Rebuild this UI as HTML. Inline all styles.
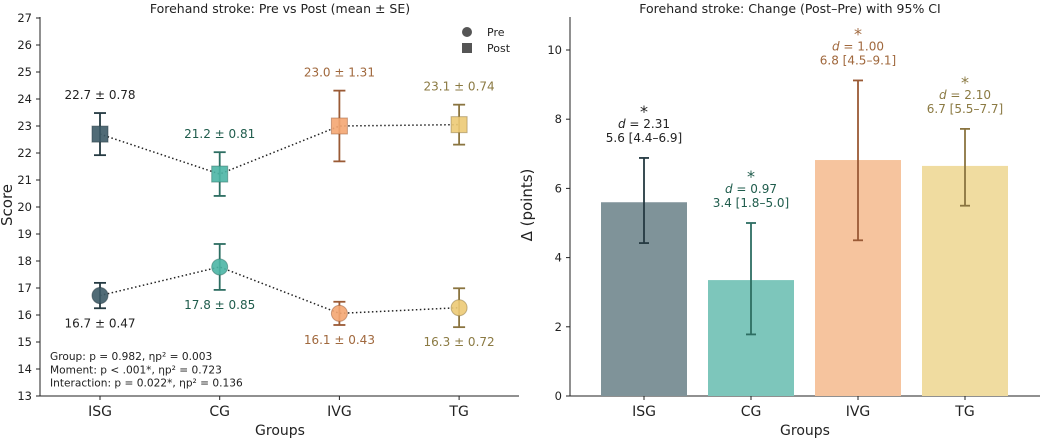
<!DOCTYPE html>
<html><head><meta charset="utf-8"><style>
body{margin:0;background:#fff;}
svg{display:block;font-family:"DejaVu Sans","Liberation Sans",sans-serif;}
</style></head><body>
<svg id="c" width="1052" height="440" viewBox="0 0 1052 440"></svg>
<script>
const groups=["ISG","CG","IVG","TG"];
const preMean=[16.72,17.78,16.06,16.27];
const preSE=[0.47,0.85,0.43,0.72];
const postMean=[22.7,21.22,23.0,23.05];
const postSE=[0.78,0.81,1.31,0.74];
const preLabels=["16.7 ± 0.47","17.8 ± 0.85","16.1 ± 0.43","16.3 ± 0.72"];
const postLabels=["22.7 ± 0.78","21.2 ± 0.81","23.0 ± 1.31","23.1 ± 0.74"];
const leftTicks=[13,14,15,16,17,18,19,20,21,22,23,24,25,26,27];
const deltaMean=[5.6,3.35,6.82,6.65];
const ciLow=[4.42,1.78,4.5,5.5];
const ciHigh=[6.88,5.0,9.12,7.72];
const dVals=["2.31","0.97","1.00","2.10"];
const ciLabels=["5.6 [4.4–6.9]","3.4 [1.8–5.0]","6.8 [4.5–9.1]","6.7 [5.5–7.7]"];
const rightTicks=[0,2,4,6,8,10];

const fill=["#3d5b67","#4bb5a5","#f4a672","#ecca76"];
const bar=["#7f9399","#7dc6bb","#f6c49e","#f0dca0"];
const ebar=["#253a42","#2d6e62","#9a5a35","#8a7440"];
const txt=["#222222","#1f5c4c","#a0683d","#8b7a43"];

const svg=document.getElementById('c');
const NS="http://www.w3.org/2000/svg";
function mk(tag,attrs,parent,text){const e=document.createElementNS(NS,tag);for(const k in attrs)e.setAttribute(k,attrs[k]);if(text!==undefined)e.textContent=text;(parent||svg).appendChild(e);return e;}

const lx=i=>100+119.7*i;
const ly=v=>396-(v-13)*27.0;
const rx=i=>644+107*i;
const ry=v=>396-v*34.6;

let t=mk('text',{x:280,y:13,'text-anchor':'middle','font-size':12.5,fill:'#222'},svg,"Forehand stroke: Pre vs Post (mean ± SE)");

t=mk('text',{x:790,y:13,'text-anchor':'middle','font-size':12.5,fill:'#222'},svg,"Forehand stroke: Change (Post–Pre) with 95% CI");


let g=mk('g',{});
mk('line',{x1:40,y1:17,x2:40,y2:396,stroke:'#222','stroke-width':1},g);
leftTicks.forEach(v=>{mk('line',{x1:36,y1:ly(v),x2:40,y2:ly(v),stroke:'#222'},g);mk('text',{x:32,y:ly(v)+4,'text-anchor':'end','font-size':11.5,fill:'#222'},g,v);});
g=mk('g',{});
mk('line',{x1:40,y1:396,x2:519,y2:396,stroke:'#222'},g);
groups.forEach((n,i)=>{mk('line',{x1:lx(i),y1:396,x2:lx(i),y2:400,stroke:'#222'},g);mk('text',{x:lx(i),y:416,'text-anchor':'middle','font-size':14,fill:'#222'},g,n);});
t=mk('text',{x:280,y:435,'text-anchor':'middle','font-size':14,fill:'#222'},svg,"Groups");
t=mk('text',{x:12,y:205,'text-anchor':'middle','font-size':15,fill:'#222',transform:'rotate(-90 12 205)'},svg,"Score");

let d=preMean.map((v,i)=>(i?'L':'M')+lx(i)+','+ly(v)).join(' ');
let p=mk('path',{d:d,fill:'none',stroke:'#222','stroke-width':1.5,'stroke-dasharray':'1.5,2.5'});
d=postMean.map((v,i)=>(i?'L':'M')+lx(i)+','+ly(v)).join(' ');
p=mk('path',{d:d,fill:'none',stroke:'#222','stroke-width':1.5,'stroke-dasharray':'1.5,2.5'});

groups.forEach((n,i)=>{
  const x=lx(i);
  let gg=mk('g',{});
  const a=ly(preMean[i]-preSE[i]),b=ly(preMean[i]+preSE[i]);
  mk('line',{x1:x,y1:a,x2:x,y2:b,stroke:ebar[i],'stroke-width':1.8},gg);
  mk('line',{x1:x-6,y1:a,x2:x+6,y2:a,stroke:ebar[i],'stroke-width':1.8},gg);
  mk('line',{x1:x-6,y1:b,x2:x+6,y2:b,stroke:ebar[i],'stroke-width':1.8},gg);
  mk('circle',{cx:x,cy:ly(preMean[i]),r:8,fill:fill[i],'fill-opacity':0.9,stroke:ebar[i],'stroke-opacity':0.5},gg);
  let tt=mk('text',{x:x,y:a+19,'text-anchor':'middle','font-size':12,fill:txt[i]},svg,preLabels[i]);
  
  gg=mk('g',{});
  const c=ly(postMean[i]-postSE[i]),e=ly(postMean[i]+postSE[i]);
  mk('line',{x1:x,y1:c,x2:x,y2:e,stroke:ebar[i],'stroke-width':1.8},gg);
  mk('line',{x1:x-6,y1:c,x2:x+6,y2:c,stroke:ebar[i],'stroke-width':1.8},gg);
  mk('line',{x1:x-6,y1:e,x2:x+6,y2:e,stroke:ebar[i],'stroke-width':1.8},gg);
  const yy=ly(postMean[i]);
  mk('rect',{x:x-8,y:yy-8,width:16,height:16,fill:fill[i],'fill-opacity':0.9,stroke:ebar[i],'stroke-opacity':0.5},gg);
  tt=mk('text',{x:x,y:e-14,'text-anchor':'middle','font-size':12,fill:txt[i]},svg,postLabels[i]);
  
});

g=mk('g',{});
mk('circle',{cx:467,cy:32,r:5,fill:'#555'},g);
mk('text',{x:487,y:36,'font-size':11,fill:'#222'},g,"Pre");
mk('rect',{x:462,y:43,width:10,height:10,fill:'#555'},g);
mk('text',{x:487,y:52,'font-size':11,fill:'#222'},g,"Post");

g=mk('g',{});
["Group: p = 0.982, ηp² = 0.003","Moment: p < .001*, ηp² = 0.723","Interaction: p = 0.022*, ηp² = 0.136"].forEach((s,k)=>mk('text',{x:50,y:360+k*13.3,'font-size':10.6,fill:'#222'},g,s));

g=mk('g',{});
mk('line',{x1:570,y1:17,x2:570,y2:396,stroke:'#222'},g);
rightTicks.forEach(v=>{mk('line',{x1:566,y1:ry(v),x2:570,y2:ry(v),stroke:'#222'},g);mk('text',{x:562,y:ry(v)+4,'text-anchor':'end','font-size':11.5,fill:'#222'},g,v);});
g=mk('g',{});
mk('line',{x1:570,y1:396,x2:1040,y2:396,stroke:'#222'},g);
groups.forEach((n,i)=>{mk('line',{x1:rx(i),y1:396,x2:rx(i),y2:400,stroke:'#222'},g);mk('text',{x:rx(i),y:416,'text-anchor':'middle','font-size':14,fill:'#222'},g,n);});
t=mk('text',{x:805,y:435,'text-anchor':'middle','font-size':14,fill:'#222'},svg,"Groups");
t=mk('text',{x:532,y:205,'text-anchor':'middle','font-size':15,fill:'#222',transform:'rotate(-90 532 205)'},svg,"Δ (points)");

groups.forEach((n,i)=>{
  const x=rx(i);
  let r=mk('rect',{x:x-43,y:ry(deltaMean[i]),width:86,height:ry(0)-ry(deltaMean[i]),fill:bar[i]});
  
  let gg=mk('g',{});
  const a=ry(ciLow[i]),b=ry(ciHigh[i]);
  mk('line',{x1:x,y1:a,x2:x,y2:b,stroke:ebar[i],'stroke-width':1.8},gg);
  mk('line',{x1:x-5,y1:a,x2:x+5,y2:a,stroke:ebar[i],'stroke-width':1.8},gg);
  mk('line',{x1:x-5,y1:b,x2:x+5,y2:b,stroke:ebar[i],'stroke-width':1.8},gg);
  let tg=mk('g',{});
  mk('text',{x:x,y:b-16,'text-anchor':'middle','font-size':12,fill:txt[i]},tg,ciLabels[i]);
  const dt=mk('text',{x:x,y:b-30,'text-anchor':'middle','font-size':12,fill:txt[i]},tg);
  mk('tspan',{'font-style':'italic'},dt,"d");
  mk('tspan',{},dt," = "+dVals[i]);
  mk('text',{x:x,y:b-41,'text-anchor':'middle','font-size':16,fill:txt[i]},tg,"*");
});
</script>
</body></html>
